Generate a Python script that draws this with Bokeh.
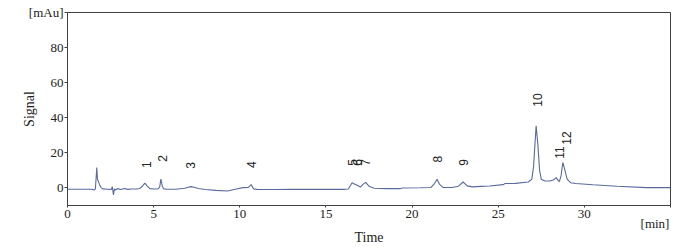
import math
from bokeh.plotting import figure
from bokeh.models import Range1d, FixedTicker, ColumnDataSource, LinearAxis
from bokeh.core.properties import value
from bokeh.embed import file_html
from bokeh.resources import INLINE

# Chromatogram trace: retention time (min) and signal (mAu)
time_min = [0, 1.40, 1.55, 1.62, 1.70, 1.74, 1.78, 1.85, 1.95, 2.05, 2.3, 2.55,
            2.60, 2.67, 2.72, 2.78, 2.9, 3.1, 3.3, 3.5, 3.7, 4.0, 4.2, 4.35,
            4.49, 4.62, 4.78, 5.0, 5.25, 5.35, 5.42, 5.50, 5.58, 5.8, 6.3, 6.8,
            7.0, 7.16, 7.35, 7.6, 8.0, 8.6, 9.3, 9.8, 10.2, 10.5, 10.66, 10.8,
            11.0, 12.0, 13.0, 14.0, 15.0, 16.0, 16.3, 16.52, 16.65, 16.81, 17.0,
            17.15, 17.30, 17.5, 17.8, 18.5, 19.3, 19.45, 20.5, 21.1, 21.3, 21.45,
            21.6, 21.8, 22.3, 22.7, 22.96, 23.2, 23.5, 24.0, 24.5, 25.3, 25.4,
            26.0, 26.75, 26.95, 27.05, 27.2, 27.3, 27.4, 27.5, 27.7, 28.0, 28.2,
            28.36, 28.5, 28.55, 28.65, 28.75, 28.85, 29.0, 29.2, 29.5, 30.5,
            31.9, 33.6, 35.0]
signal_mau = [-0.7, -0.7, -1.2, -0.5, 11.6, 5.0, 4.0, 2.0, 0.2, -0.5, -0.7, -0.8,
              0.8, -4.0, -0.5, -1.2, -0.4, -0.9, -0.3, -0.8, -0.6, -0.6, -0.3, 1.0,
              2.7, 1.2, -0.4, -0.6, -0.6, 0.5, 5.0, 1.0, -0.5, -0.7, -0.7, -0.2,
              0.4, 0.75, 0.4, -0.3, -0.9, -1.4, -1.7, -0.6, 0.2, 0.3, 1.9, -0.5,
              -0.8, -0.9, -0.8, -0.8, -0.8, -0.8, -0.6, 3.0, 2.3, 1.5, 0.5,
              2.0, 3.2, 1.0, -0.2, -0.4, -0.4, 0.0, 0.1, 0.3, 2.5, 5.0,
              2.0, 0.3, 0.3, 1.0, 3.4, 1.2, 0.6, 0.9, 1.1, 1.9, 2.5,
              2.6, 3.4, 5.0, 12.0, 35.4, 25.0, 10.0, 5.0, 4.0, 4.0, 4.5,
              5.9, 4.0, 3.6, 7.0, 14.5, 11.0, 5.0, 3.0, 2.5, 1.8,
              1.0, 0.2, 0.2]

# Peak annotations
peak_labels = ["1", "2", "3", "4", "5", "6", "7", "8", "9", "10", "11", "12"]
peak_label_time = [4.58, 5.51, 7.14, 10.66, 16.52, 16.81, 17.30, 21.46, 23.0, 27.26, 28.57, 28.96]
peak_label_signal = [11.4, 15.0, 10.9, 11.4, 12.6, 12.6, 12.6, 14.5, 12.6, 46.3, 16.6, 24.6]

x_ticks = [0, 5, 10, 15, 20, 25, 30, 35]
y_ticks = [0, 20, 40, 60, 80, 100]
y_unit = "[mAu]"
x_unit = "[min]"
x_unit_pos = 34.1

AX = "#404040"
TXT = "#222222"
SERIF = "Liberation Serif"

p = figure(width=673, height=248, output_backend="svg", toolbar_location=None,
           x_range=Range1d(0, 35), y_range=Range1d(-10, 100),
           min_border_left=67, min_border_right=3, min_border_top=12,
           min_border_bottom=43)
p.background_fill_color = "white"
p.border_fill_color = "white"
p.outline_line_color = AX
p.outline_line_width = 1
p.xgrid.visible = False
p.ygrid.visible = False

p.line(time_min, signal_mau, line_color="#5a6a9e", line_width=1.1)

src = ColumnDataSource(dict(x=peak_label_time, y=peak_label_signal, t=peak_labels))
p.text(x="x", y="y", text="t", source=src, angle=math.pi / 2,
       text_align="left", text_baseline="middle",
       text_font=value("Liberation Sans"), text_font_size="12px",
       text_color=TXT)

xa = p.xaxis[0]
xa.ticker = FixedTicker(ticks=x_ticks)
xa.major_label_overrides = {35: ""}
xa.axis_line_color = AX
xa.major_tick_line_color = AX
xa.major_tick_out = 2
xa.major_tick_in = 0
xa.minor_tick_line_color = None
xa.major_label_standoff = 2
xa.major_label_text_font = SERIF
xa.major_label_text_font_size = "13px"
xa.major_label_text_color = TXT

# second, line-less axis carrying the unit "[min]" and the axis title "Time"
xa2 = LinearAxis(ticker=FixedTicker(ticks=[x_unit_pos]),
                 major_label_overrides={x_unit_pos: x_unit})
xa2.axis_line_color = None
xa2.major_tick_line_color = None
xa2.minor_tick_line_color = None
xa2.major_tick_out = 0
xa2.major_tick_in = 0
xa2.major_label_standoff = -5
xa2.major_label_text_font = SERIF
xa2.major_label_text_font_size = "13px"
xa2.major_label_text_color = TXT
xa2.axis_label = "Time"
xa2.axis_label_text_font = SERIF
xa2.axis_label_text_font_size = "14px"
xa2.axis_label_text_font_style = "normal"
xa2.axis_label_text_color = TXT
xa2.axis_label_standoff = -4
p.add_layout(xa2, "below")

ya = p.yaxis[0]
ya.ticker = FixedTicker(ticks=y_ticks)
ya.major_label_overrides = {100: y_unit}
ya.axis_line_color = AX
ya.major_tick_line_color = AX
ya.major_tick_out = 3
ya.major_tick_in = 0
ya.minor_tick_line_color = None
ya.major_label_standoff = 1
ya.major_label_text_font = SERIF
ya.major_label_text_font_size = "13px"
ya.major_label_text_color = TXT
ya.axis_label = "Signal"
ya.axis_label_text_font = SERIF
ya.axis_label_text_font_size = "14px"
ya.axis_label_text_font_style = "normal"
ya.axis_label_text_color = TXT
ya.axis_label_standoff = -11

open("out.html", "w").write(file_html(p, INLINE))
